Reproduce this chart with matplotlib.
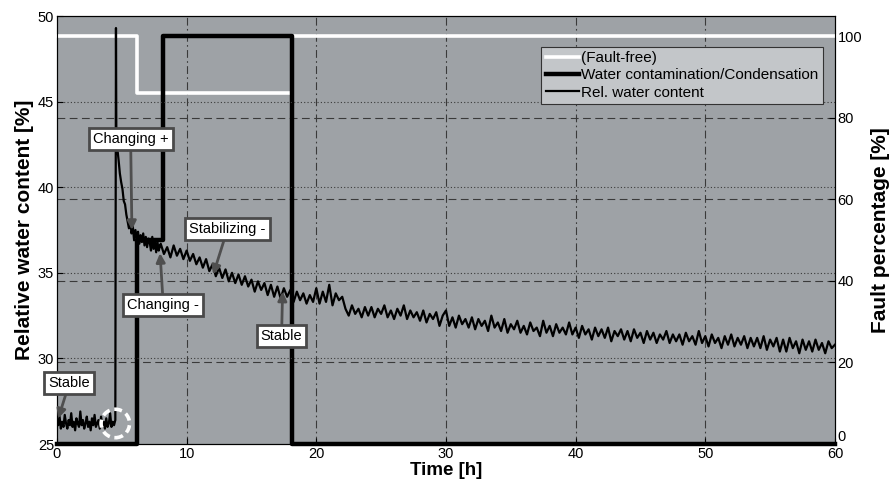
import numpy as np
import matplotlib.pyplot as plt
import matplotlib.transforms as mtransforms

plt.rcParams['font.family'] = ['Liberation Sans', 'DejaVu Sans']

# relative water content [%] before the event, one value every 0.1 h from 0 h
water_pre = [26.5, 26.1, 26.6, 25.9, 26.3, 26.0, 26.7, 26.2, 25.9, 26.4,
             26.1, 26.8, 26.0, 26.3, 25.8, 26.5, 26.2, 26.0, 26.9, 26.1,
             26.4, 25.9, 26.2, 26.6, 26.0, 26.3, 25.8, 26.5, 26.1, 26.7,
             26.0, 26.2, 26.4, 25.9, 26.6, 26.1, 26.3, 25.9, 26.5, 26.0,
             26.2, 26.8, 26.0, 26.3, 26.1, 26.4]
# sensor jump
jump_time = [4.55, 4.58]
jump_water = [49.3, 42.6]
# fast decay, every 0.1 h from 4.65 h
water_decay = [42.3, 41.6, 40.8, 40.3, 39.9, 39.2, 39.0, 38.4, 38.0, 37.6,
               38.1, 37.3, 37.7, 36.9, 37.5, 37.0, 37.4, 36.7, 37.2, 36.8,
               37.3, 36.6, 37.1, 36.5, 37.0, 36.8, 36.3, 37.1, 36.4, 36.9,
               36.2, 36.8, 36.3, 36.6]
# slow drift, every 0.25 h from 8 h to 60 h
water_slow = [36.7, 36.1, 36.5, 35.9, 36.6, 36.0, 36.4, 35.8,
              36.3, 35.7, 36.1, 35.5, 35.9, 35.3, 35.8, 35.1,
              35.5, 34.8, 35.3, 34.7, 35.2, 34.5, 35.0, 34.4,
              34.9, 34.3, 34.8, 34.2, 34.6, 33.9, 34.5, 34.0,
              34.4, 33.7, 34.3, 33.6, 34.2, 33.5, 34.1, 33.6,
              34.0, 33.3, 33.9, 33.4, 33.8, 33.2, 33.7, 33.3,
              34.1, 33.2, 33.9, 33.3, 34.3, 33.1, 33.8, 33.4,
              33.6, 32.9, 32.5, 33.1, 32.6, 32.9, 32.4, 33.0,
              32.5, 33.0, 32.4, 32.9, 32.6, 33.1, 32.4, 32.8,
              32.3, 32.9, 32.5, 33.1, 32.3, 32.8, 32.4, 32.7,
              32.2, 32.8, 32.1, 32.6, 32.3, 32.7, 31.9, 32.5,
              32.8, 31.9, 32.4, 31.8, 32.5, 32.0, 32.3, 31.8,
              32.4, 31.7, 32.3, 31.9, 32.2, 31.6, 32.5, 31.8,
              32.1, 31.6, 32.3, 31.5, 32.0, 31.7, 32.2, 31.5,
              31.9, 31.4, 32.1, 31.6, 31.8, 31.3, 32.2, 31.5,
              31.9, 31.3, 32.0, 31.5, 31.8, 31.4, 32.1, 31.4,
              31.8, 31.2, 31.9, 31.4, 31.7, 31.1, 31.8, 31.3,
              31.7, 31.2, 31.8, 31.0, 31.6, 31.3, 31.7, 31.1,
              31.6, 31.0, 31.7, 31.2, 31.5, 30.9, 31.6, 31.1,
              31.5, 30.9, 31.4, 31.1, 31.6, 30.9, 31.4, 31.0,
              31.4, 30.8, 31.5, 31.0, 31.3, 30.8, 31.6, 30.9,
              31.3, 30.7, 31.4, 30.9, 31.2, 30.6, 31.3, 30.8,
              31.4, 30.7, 31.2, 30.8, 31.3, 30.6, 31.2, 30.7,
              31.2, 30.6, 31.3, 30.5, 31.1, 30.7, 31.2, 30.4,
              31.1, 30.4, 31.2, 30.6, 31.0, 30.3, 31.1, 30.5,
              31.0, 30.4, 31.1, 30.5, 30.9, 30.3, 31.0, 30.6,
              30.8]

# fault percentages (step signals)
ff_time = [0, 6.2, 18.1, 60]
ff_value = [100, 86, 100, 100]
wc_time = [0, 6.2, 8.2, 18.1, 60]
wc_value = [0, 50, 100, 0, 0]

# annotations: label, text position, arrow tip
notes = [('Stable', (0.95, 28.55), (0.1, 26.5)),
         ('Changing +', (5.68, 42.8), (5.78, 37.5)),
         ('Stabilizing -', (13.15, 37.55), (12.05, 34.9)),
         ('Changing -', (8.2, 33.1), (7.95, 36.15)),
         ('Stable', (17.32, 31.3), (17.4, 33.9))]
event_time = 4.5
event_water = 26.2

t_pre = np.arange(len(water_pre)) * 0.1
t_decay = 4.65 + np.arange(len(water_decay)) * 0.1
t_slow = 8.0 + np.arange(len(water_slow)) * 0.25
time = np.concatenate([t_pre, jump_time, t_decay, t_slow])
water = np.concatenate([water_pre, jump_water, water_decay, water_slow])

fig = plt.figure(figsize=(8.93, 4.86), dpi=100)
ax2 = fig.add_axes([0.0638, 0.0864, 0.8712, 0.8806])
ax = ax2.twinx()
ax.yaxis.tick_left()
ax.yaxis.set_label_position('left')
ax2.yaxis.tick_right()
ax2.yaxis.set_label_position('right')

grid_col = '#3a3a3a'
ax2.set_facecolor('#9ea2a6')
ax.patch.set_visible(False)

ax2.plot(ff_time, ff_value, color='white', lw=2.6, drawstyle='steps-post',
         clip_on=False, zorder=3, label='(Fault-free)')
ax2.plot(wc_time, wc_value, color='black', lw=3.2, drawstyle='steps-post',
         clip_on=False, zorder=4, label='Water contamination/Condensation')
ax2.set_ylim(0, 105)
ax2.set_yticks([0, 20, 40, 60, 80, 100])
ax2.set_xlim(0, 60)
ax2.set_xticks(np.arange(0, 61, 10))
for y in [20, 40, 60, 80]:
    ax2.axhline(y, color=grid_col, lw=0.8, ls=(0, (7, 4)), zorder=1)
for x in [10, 20, 30, 40, 50]:
    ax2.axvline(x, color=grid_col, lw=0.8, ls=(0, (7, 3, 1.5, 3)), zorder=1)

line, = ax.plot(time, water, color='black', lw=1.6, zorder=3,
                label='Rel. water content')
ax.set_ylim(25, 50)
ax.set_yticks([25, 30, 35, 40, 45, 50])
for y in [30, 35, 40, 45]:
    ax.axhline(y, color=grid_col, lw=0.8, ls=(0, (1, 2)), zorder=1)

ax.scatter([event_time], [event_water], s=420, facecolors='none',
           edgecolors='white', linewidths=2.6, linestyles=(0, (2.2, 1.3)),
           zorder=5)

for label, xy_text, xy_tip in notes:
    ax.annotate(label, xy=xy_tip, xytext=xy_text, ha='center', va='center',
                fontsize=10.5, zorder=6,
                bbox=dict(boxstyle='square,pad=0.28', fc='white',
                          ec='#4a4a4a', lw=2),
                arrowprops=dict(arrowstyle='-|>', color='#4f4f4f', lw=2,
                                mutation_scale=13, shrinkA=0, shrinkB=0))

for a in (ax, ax2):
    a.tick_params(direction='in', labelsize=10.5, length=4, colors='black')
    for s in a.spines.values():
        s.set_color('black')
        s.set_linewidth(0.8)
ax2.tick_params(axis='x', pad=2)
ax2.tick_params(axis='y', pad=2)
ax.tick_params(axis='y', pad=2)

ax2.set_xlabel('Time [h]', fontsize=13.5, fontweight='bold', labelpad=1)
ax.set_ylabel('Relative water content [%]', fontsize=15, fontweight='bold',
              labelpad=3)
ax2.set_ylabel('Fault percentage [%]', fontsize=15, fontweight='bold',
               labelpad=6)

# lift the bottom right-hand "0" a little, as in the reference
fig.canvas.draw()
lift = mtransforms.ScaledTranslation(0, 6 / 72, fig.dpi_scale_trans)
bottom_lbl = ax2.yaxis.get_majorticklabels()[0]
bottom_lbl.set_transform(bottom_lbl.get_transform() + lift)

handles = ax2.get_lines()[:2] + [line]
leg = ax.legend(handles=handles, loc='upper right',
                bbox_to_anchor=(0.985, 0.928), fontsize=11, fancybox=False,
                framealpha=1, facecolor='#c3c6c9', edgecolor='#333333',
                handlelength=2.2, handletextpad=0.15, borderpad=0.3,
                labelspacing=0.2, borderaxespad=0)
leg.get_frame().set_linewidth(0.8)
leg.set_zorder(10)

plt.savefig('out.png', dpi=100)
